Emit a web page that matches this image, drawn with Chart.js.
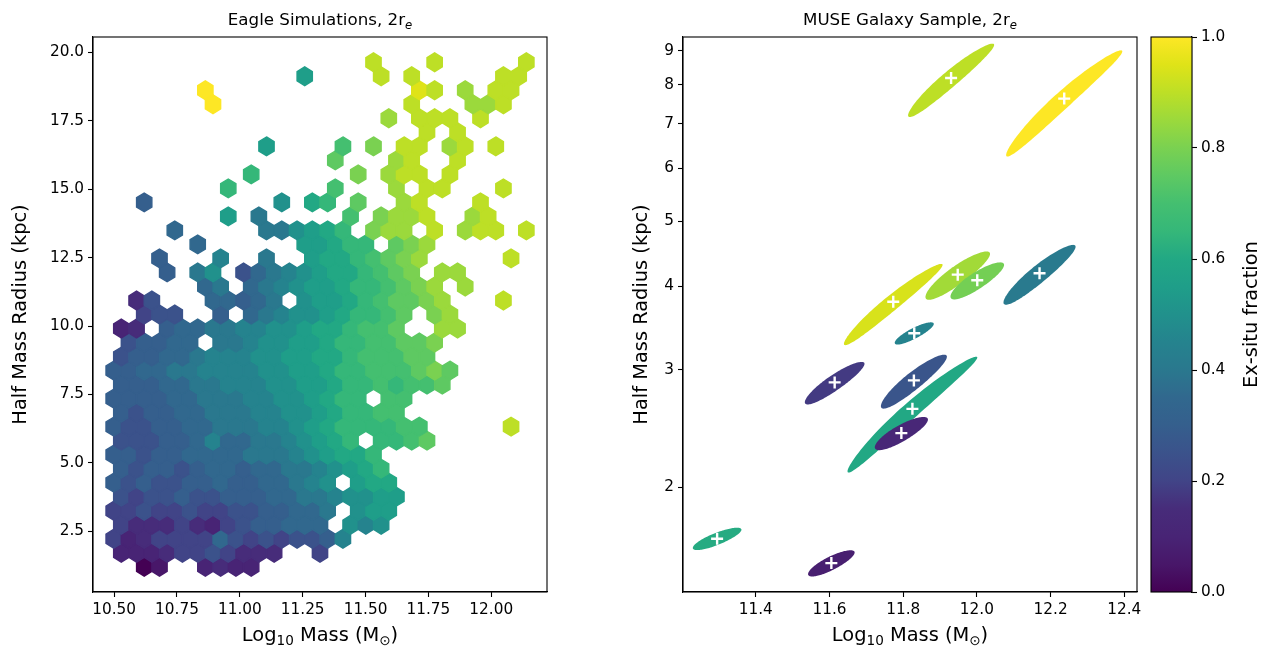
<!DOCTYPE html>
<html>
<head>
<meta charset="utf-8">
<script src="https://cdn.jsdelivr.net/npm/chart.js@4.4.1/dist/chart.umd.min.js"></script>
<style>
  body { margin: 0; background: #fff; }
  #wrap { position: relative; width: 1268px; height: 654px; background: #fff; }
  #wrap canvas { position: absolute; top: 0; }
</style>
</head>
<body>
<div id="wrap">
  <canvas id="eagle" width="620" height="654" style="left:0px"></canvas>
  <canvas id="muse" width="540" height="654" style="left:620px"></canvas>
  <canvas id="cbar" width="128" height="654" style="left:1140px"></canvas>
</div>
<script>
// ---- Eagle hexbin, one string per hex row (bottom row first) ----
// '.' = empty bin, 'a'..'u' = ex-situ fraction 0.00 .. 1.00 in 0.05 steps
const eagleRows = [
  "..ab..cdcc",
  "cccdeefeddd..e",
  "ecdeeeehfefeffgj",
  "edddedcefgghhh.kjk",
  "eefeefeeffgghhi.kll",
  "feffgffggghhiijkkll",
  "gfgffgghgghhijk.lmm",
  "gfggfghhghhiijklmn",
  "ggfgghhhhiiijklmmn",
  "fffgghjhhiijklmn.nnop",
  "gffgghhiiijjklmnnnnoo.....s",
  "gfgghhiiijjkklmnnoo",
  "gggghhiiijjkklmnn.oo",
  "ggghhiijjjkkllmnnonoop",
  "gghhiijjjjkkllmnnooopqp",
  "fgghhijjjkkllmmnooopp",
  ".fgghh.iijkkllmnnooppq",
  "cd.ghhiijjkklmmnoop..rr",
  "..eff..g.hijkklmnnop.qr",
  ".df...hhghi.kllmnoppqr...s",
  "......hi.hijkllmnnopqr.r",
  "...g.ik.fhijklmmnopq.rr",
  "...g...j..i..lmmnopqr.....s",
  ".....h......llmnn.pqr",
  "....h.....iiklmn.qrr.s.rss.s",
  ".......l.i.....o.qrrs..rs",
  "..g........k.mn.p..rs...s",
  ".......n......o...r.ss...s",
  ".........n......q.rss.s",
  "..............p...rs..s",
  "..........l....o.q.ss.rs.s",
  "....................s.s",
  "..................r.sss.s",
  "......u............s...rrs",
  "......u.............ts.r.ss",
  "............l....s.s.....ss",
  ".................s...s.....s"
];
// hex lattice of the binning (log mass, kpc)
const hexX0 = 10.498, hexDX = 0.0608, hexY0 = 1.203, hexDY = 1.0243;

const eagleXTicks = [10.5, 10.75, 11.0, 11.25, 11.5, 11.75, 12.0];
const eagleYTicks = [2.5, 5.0, 7.5, 10.0, 12.5, 15.0, 17.5, 20.0];

// ---- MUSE galaxies: centre, error ellipse, ex-situ fraction ----
const museMass    = [11.93, 12.237, 12.170, 11.773, 11.948, 12.001, 11.830, 11.614, 11.829, 11.825, 11.795, 11.295, 11.605];
const museRadius  = [8.19, 7.63, 4.18, 3.79, 4.16, 4.08, 3.40, 2.87, 2.89, 2.62, 2.41, 1.675, 1.54];
const museFrac    = [0.90, 1.00, 0.41, 0.94, 0.86, 0.79, 0.45, 0.18, 0.26, 0.60, 0.12, 0.61, 0.08];
const museDMass   = [0.112, 0.154, 0.091, 0.130, 0.078, 0.062, 0.045, 0.073, 0.082, 0.173, 0.060, 0.054, 0.052];
const museDRadius = [1.03, 1.38, 0.43, 0.527, 0.346, 0.26, 0.13, 0.21, 0.268, 0.516, 0.138, 0.0645, 0.0695];
const museWidth   = [0.033, 0.034, 0.036, 0.032, 0.040, 0.038, 0.028, 0.035, 0.036, 0.033, 0.040, 0.038, 0.036];

const museXTicks = [11.4, 11.6, 11.8, 12.0, 12.2, 12.4];
const museYTicks = [2, 3, 4, 5, 6, 7, 8, 9];
const cbarTicks = [0, 0.2, 0.4, 0.6, 0.8, 1.0];

const FONT = "'DejaVu Sans', sans-serif";
const TICK_SIZE = 15.3;
const LABEL_SIZE = 19.4;
const TITLE_SIZE = 16.7;

const viridisStops = ['#440154', '#481769', '#482475', '#472c7a', '#414487', '#3b528b', '#355f8d', '#31688e',
  '#2a788e', '#25838e', '#21918c', '#1f9e89', '#22a884', '#35b779', '#44bf70', '#5ec962', '#7ad151',
  '#9bd93c', '#bddf26', '#dfe318', '#fde725'];

function hexToRgb(h) {
  return [parseInt(h.slice(1, 3), 16), parseInt(h.slice(3, 5), 16), parseInt(h.slice(5, 7), 16)];
}

function viridis(v) {
  v = Math.min(1, Math.max(0, v));
  const f = v * (viridisStops.length - 1);
  const i = Math.min(Math.floor(f), viridisStops.length - 2);
  const t = f - i;
  const a = hexToRgb(viridisStops[i]), b = hexToRgb(viridisStops[i + 1]);
  const c = a.map((x, k) => Math.round(x + (b[k] - x) * t));
  return `rgb(${c[0]},${c[1]},${c[2]})`;
}

// build the hexbin points from the row strings
const eaglePoints = [];
eagleRows.forEach((row, k) => {
  for (let i = 0; i < row.length; i++) {
    const c = row[i];
    if (c === '.') continue;
    eaglePoints.push({
      x: hexX0 + (i + (k % 2) * 0.5) * hexDX,
      y: hexY0 + k * hexDY / 2,
      v: (c.charCodeAt(0) - 97) * 0.05
    });
  }
});

// text with subscripts, centred horizontally on (x, y)
function drawRich(ctx, parts, x, y, angle) {
  ctx.save();
  ctx.translate(x, y);
  ctx.rotate(angle || 0);
  ctx.fillStyle = '#000';
  ctx.textBaseline = 'alphabetic';
  ctx.textAlign = 'left';
  const fontOf = p => (p.italic ? 'italic ' : '') + p.size + 'px ' + FONT;
  let w = 0;
  parts.forEach(p => { ctx.font = fontOf(p); w += ctx.measureText(p.text).width; });
  let cx = -w / 2;
  parts.forEach(p => {
    ctx.font = fontOf(p);
    ctx.fillText(p.text, cx, p.dy || 0);
    cx += ctx.measureText(p.text).width;
  });
  ctx.restore();
}

const titleParts = (txt) => [
  { text: txt + ', 2r', size: TITLE_SIZE },
  { text: 'e', size: TITLE_SIZE * 0.7, italic: true, dy: 3.5 }
];
const xLabelParts = [
  { text: 'Log', size: LABEL_SIZE },
  { text: '10', size: LABEL_SIZE * 0.7, dy: 4 },
  { text: ' Mass (M', size: LABEL_SIZE },
  { text: '\u2299', size: LABEL_SIZE * 0.7, dy: 4 },
  { text: ')', size: LABEL_SIZE }
];
const yLabelParts = [{ text: 'Half Mass Radius (kpc)', size: LABEL_SIZE, dy: 6 }];

const framePlugin = {
  id: 'frame',
  afterDraw(chart) {
    const { ctx, chartArea: a } = chart;
    ctx.save();
    ctx.strokeStyle = '#000';
    ctx.lineWidth = 1.1;
    ctx.strokeRect(a.left, a.top, a.right - a.left, a.bottom - a.top);
    ctx.restore();
  }
};

function tickAxis(extra) {
  const base = {
    grid: { drawOnChartArea: false, tickLength: 5, tickWidth: 1.1, tickColor: '#000' },
    border: { display: true, color: '#000', width: 1.1 },
  };
  return Object.assign(base, extra);
}
function tickFont(cb) {
  return { color: '#000', font: { family: FONT, size: TICK_SIZE }, padding: 4, autoSkip: false, maxRotation: 0, callback: cb };
}

/* ---------------- LEFT: EAGLE HEXBIN ---------------- */
const hexPlugin = {
  id: 'hexes',
  afterDatasetsDraw(chart) {
    const { ctx, chartArea: a, scales: { x, y } } = chart;
    const meta = chart.getDatasetMeta(0);
    const pts = chart.data.datasets[0].data;
    const hw = (x.getPixelForValue(hexX0 + hexDX) - x.getPixelForValue(hexX0)) / 2;
    const hv = y.getPixelForValue(hexY0) - y.getPixelForValue(hexY0 + hexDY / 3);
    ctx.save();
    ctx.beginPath();
    ctx.rect(a.left, a.top, a.right - a.left, a.bottom - a.top);
    ctx.clip();
    ctx.lineWidth = 1.4;
    ctx.lineJoin = 'miter';
    meta.data.forEach((el, i) => {
      const col = viridis(pts[i].v);
      ctx.beginPath();
      ctx.moveTo(el.x, el.y - hv);
      ctx.lineTo(el.x + hw, el.y - hv / 2);
      ctx.lineTo(el.x + hw, el.y + hv / 2);
      ctx.lineTo(el.x, el.y + hv);
      ctx.lineTo(el.x - hw, el.y + hv / 2);
      ctx.lineTo(el.x - hw, el.y - hv / 2);
      ctx.closePath();
      ctx.fillStyle = col;
      ctx.strokeStyle = col;
      ctx.fill();
      ctx.stroke();
    });
    ctx.restore();
  }
};

const eagleText = {
  id: 'eagleText',
  afterDraw(chart) {
    const ctx = chart.ctx;
    const a = chart.chartArea;
    const cx = (a.left + a.right) / 2;
    drawRich(ctx, titleParts('Eagle Simulations'), cx, 25);
    drawRich(ctx, xLabelParts, cx, 641);
    drawRich(ctx, yLabelParts, 20, (a.top + a.bottom) / 2, -Math.PI / 2);
  }
};

new Chart(document.getElementById('eagle'), {
  type: 'scatter',
  data: { datasets: [{ data: eaglePoints, pointRadius: 0, pointHoverRadius: 0 }] },
  options: {
    responsive: false,
    animation: false,
    devicePixelRatio: 1,
    layout: { padding: { left: 0, top: 37, right: 73, bottom: 0 } },
    plugins: { legend: { display: false }, tooltip: { enabled: false } },
    scales: {
      x: tickAxis({
        type: 'linear', min: 10.4159, max: 12.2217,
        afterBuildTicks: s => { s.ticks = eagleXTicks.map(v => ({ value: v })); },
        afterFit: s => { s.height = 62; },
        ticks: tickFont(v => Number(v).toFixed(2))
      }),
      y: tickAxis({
        type: 'linear', min: 0.2812, max: 20.562,
        afterBuildTicks: s => { s.ticks = eagleYTicks.map(v => ({ value: v })); },
        afterFit: s => { s.width = 93; },
        ticks: tickFont(v => Number(v).toFixed(1))
      })
    }
  },
  plugins: [hexPlugin, framePlugin, eagleText]
});

/* ---------------- RIGHT: MUSE ELLIPSES ---------------- */
const ellipsePlugin = {
  id: 'ellipses',
  beforeDatasetsDraw(chart) {
    const { ctx, scales: { x, y } } = chart;
    ctx.save();
    museMass.forEach((m, j) => {
      ctx.beginPath();
      for (let s = 0; s <= 120; s++) {
        const t = s / 120 * 2 * Math.PI;
        const px = x.getPixelForValue(m + Math.cos(t) * museDMass[j] + Math.sin(t) * museWidth[j]);
        const py = y.getPixelForValue(museRadius[j] + Math.cos(t) * museDRadius[j]);
        if (s === 0) ctx.moveTo(px, py); else ctx.lineTo(px, py);
      }
      ctx.closePath();
      ctx.fillStyle = viridis(museFrac[j]);
      ctx.fill();
    });
    ctx.restore();
  }
};

const museText = {
  id: 'museText',
  afterDraw(chart) {
    const ctx = chart.ctx;
    const a = chart.chartArea;
    const cx = (a.left + a.right) / 2;
    drawRich(ctx, titleParts('MUSE Galaxy Sample'), cx, 25);
    drawRich(ctx, xLabelParts, cx, 641);
    drawRich(ctx, yLabelParts, 21, (a.top + a.bottom) / 2, -Math.PI / 2);
  }
};

new Chart(document.getElementById('muse'), {
  type: 'scatter',
  data: {
    datasets: [{
      data: museMass.map((m, i) => ({ x: m, y: museRadius[i] })),
      pointStyle: 'cross',
      pointRadius: 6,
      pointHoverRadius: 6,
      borderColor: '#ffffff',
      backgroundColor: '#ffffff',
      borderWidth: 2.4
    }]
  },
  options: {
    responsive: false,
    animation: false,
    devicePixelRatio: 1,
    layout: { padding: { left: 0, top: 37, right: 23, bottom: 0 } },
    plugins: { legend: { display: false }, tooltip: { enabled: false } },
    scales: {
      x: tickAxis({
        type: 'linear', min: 11.2024, max: 12.4345,
        afterBuildTicks: s => { s.ticks = museXTicks.map(v => ({ value: v })); },
        afterFit: s => { s.height = 62; },
        ticks: tickFont(v => Number(v).toFixed(1))
      }),
      y: tickAxis({
        type: 'logarithmic', min: 1.394, max: 9.434,
        afterBuildTicks: s => { s.ticks = museYTicks.map(v => ({ value: v })); },
        afterFit: s => { s.width = 63; },
        ticks: tickFont(v => String(Math.round(v)))
      })
    }
  },
  plugins: [ellipsePlugin, framePlugin, museText]
});

/* ---------------- COLORBAR ---------------- */
const gradientPlugin = {
  id: 'cbarFill',
  beforeDatasetsDraw(chart) {
    const { ctx, chartArea: a } = chart;
    const g = ctx.createLinearGradient(0, a.bottom, 0, a.top);
    viridisStops.forEach((c, i) => g.addColorStop(i / (viridisStops.length - 1), c));
    ctx.save();
    ctx.fillStyle = g;
    ctx.fillRect(a.left, a.top, a.right - a.left, a.bottom - a.top);
    ctx.restore();
  }
};
const cbarText = {
  id: 'cbarText',
  afterDraw(chart) {
    const a = chart.chartArea;
    drawRich(chart.ctx, [{ text: 'Ex-situ fraction', size: LABEL_SIZE, dy: 6 }], 111, (a.top + a.bottom) / 2, -Math.PI / 2);
  }
};

new Chart(document.getElementById('cbar'), {
  type: 'scatter',
  data: { datasets: [{ data: [] }] },
  options: {
    responsive: false,
    animation: false,
    devicePixelRatio: 1,
    layout: { padding: { left: 11, top: 37, right: 0, bottom: 62 } },
    plugins: { legend: { display: false }, tooltip: { enabled: false } },
    scales: {
      x: { display: false, min: 0, max: 1 },
      y: tickAxis({
        type: 'linear', position: 'right', min: 0, max: 1,
        afterBuildTicks: s => { s.ticks = cbarTicks.map(v => ({ value: v })); },
        afterFit: s => { s.width = 76; },
        ticks: tickFont(v => Number(v).toFixed(1))
      })
    }
  },
  plugins: [gradientPlugin, framePlugin, cbarText]
});
</script>
</body>
</html>
